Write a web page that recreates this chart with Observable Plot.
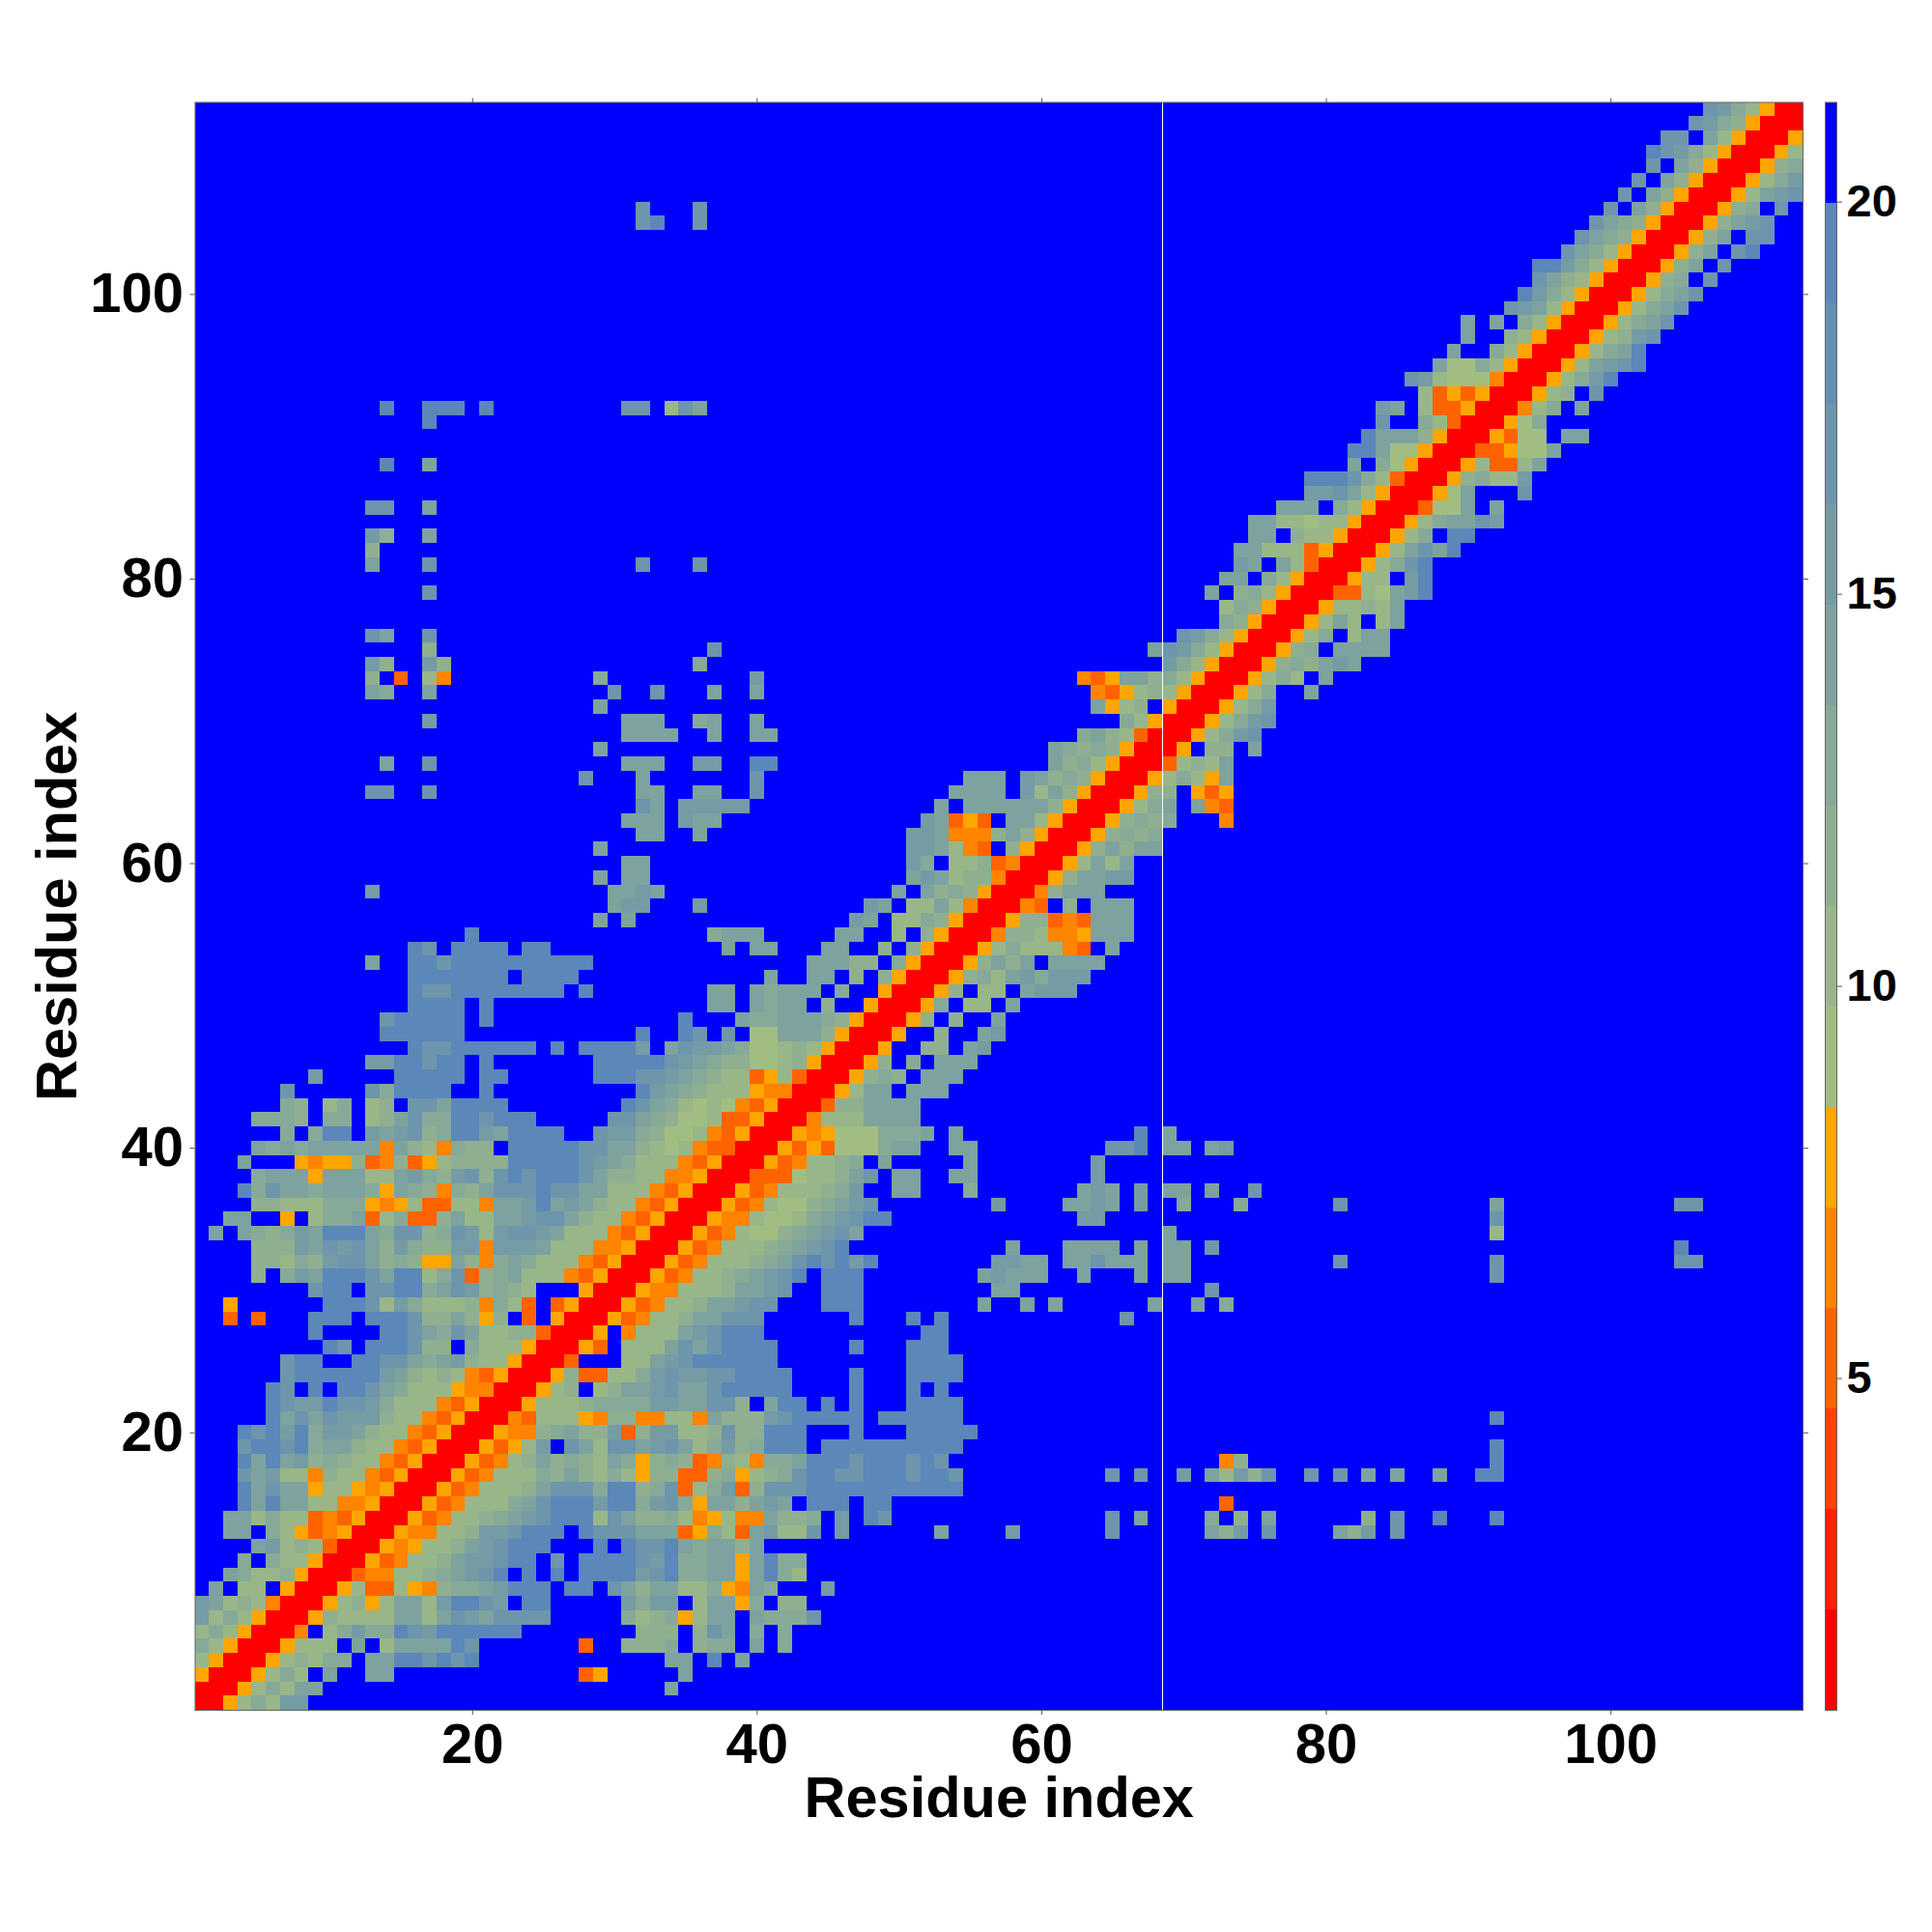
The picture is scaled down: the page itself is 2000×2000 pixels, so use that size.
<!DOCTYPE html>
<html>
<head>
<meta charset="utf-8">
<script src="https://cdn.jsdelivr.net/npm/d3@7"></script>
<script src="https://cdn.jsdelivr.net/npm/@observablehq/plot@0.6"></script>
<style>
html,body{margin:0;padding:0;background:#fff}
#chart{position:relative;width:2000px;height:2000px}
#chart svg{position:absolute;left:0;top:0;background:transparent}
</style>
</head>
<body>
<div id="chart"></div>
<script>
const residueCount = 113;
const axisTicks = [20, 40, 60, 80, 100];
const barTicks = [5, 10, 15, 20];
const axisTitle = "Residue index";
const gapResidue = 68.5;
const barMin = 0.77;
const barMax = 21.27;
const bandColors = ["#ff0000","#ff2100","#ff4200","#ff6300","#ff8400","#ffa500","#a2bd82","#99b689","#90af90","#87a997","#7ea29e","#759ba5","#6d95ac","#648eb2","#5b87b9","#0000ff"];
const levelCodes = {"0":0,"1":1,"2":2,"3":3,"4":4,"5":5,a:6,b:7,c:8,d:9,e:10,f:11,g:12,h:14,i:14,".":15};
// One entry per residue s: "start:codes" runs for the residues r > s (the map is symmetric).
const cellRows = [
"2:05bdbff",
"3:05bdbee 34:e",
"4:05bdb.e 13:ee 28:35 35:e",
"5:05bcbdd 13:eehhghgh 34:ee 37:h 39:e",
"6:05bbb.e.beeeehg 28:3 31:cccd 36:cdd 40:e 42:d",
"7:04.bdfddhgfhiihhh 32:ccc 36:cge 40:d 42:d",
"8:05cbbbbeebegfegggg 31:dbcd5bee 40:edddg",
"9:05bc5beebfhhgf.hh 31:fdff 36:bee5d 42:cc",
"10:05b33b54cddefhhh.hh.geceebbd54ed 45:f",
"11:0344bbcdefgh.h.h.hhhhfghddee5ehdb",
"12:0534bbceffghh.g.hhhhgfhddee5ehdd",
"13:0545bbcefghhh...h.hgghedeece",
"14:0544bbcffghhh.hgggeee35db3efbbg.f 53:e 58:f 65:g 72:ecf.g 81:ecf.g",
"15:0534bbcdefghhhbgeccdb45b44eccd.f.hg 65:g 67:e 72:d 74:c 76:e 83:c 85:g 88:h 92:h",
"16:0534bbbdeghhhfhhdfgd5eecefe.hhh.hh 73:3",
"17:0534bbbcegggdhhcdg3bdf3cggghhhhhhhhhhh",
"18:0534bbbdcecbdb5cc33cd5bcdghhgghhhghhg 65:g 67:g 70:f 72:ebfcg 79:g 81:g 83:e 85:e 88:e 91:hh",
"19:0534bcecdcbed5cdc34cb4ddehhhghhhghg 73:4c 92:h",
"20:0535bf.gebggefgebdfcdhhh.hhhhhhhhhh 92:h",
"21:0544cdeccf3cffbbcgcchhh...h...hhhhh",
"22:043bbb54cc44bb4ecccfghhhhh.hhhhhh 92:h",
"23:05bbbcddddffeeggc.ehh.h.h...hhhh",
"24:05bc.bceefgeeghhhhh....h...h.h",
"25:05c33bbdfgffgghhhh....h...hhhh",
"26:03...bbefghhhhhh 51:hhhh",
"27:053.bbbegeghhhh 47:h 51:hhh",
"28:05.4bbbefghhh 52:hh",
"29:0534bbceeggg 47:h 51:h 53:h 66:g",
"30:0534bbceefgg 45:hhh 56:e 59:e 61:e 68:e 71:e 73:d",
"31:0544bbbceefg 45:hhh 57:ee 72:g",
"32:0534bbcdefgh 45:hhh 56:efeee 63:e 67:e 69:ee 92:g",
"33:0534bbbcdeghghfh 57:ffee 62:eegeee 69:ee 81:g 92:g 105:gg",
"34:0534bbbcdefgh 58:e 62:eeee 67:e 69:ee 72:g 105:h",
"35:0534baacdefge 69:e 92:b",
"36:0544baabdefghh 63:ff 92:g",
"37:0534baacdefg 57:f 62:eefe 67:f 70:d 74:d 81:g 92:e 105:gg",
"38:0534bbbcdf 50:ee 55:d 63:efe 67:f 69:ee 72:e 75:g",
"39:0333abbceg 50:ee 54:ee 64:f",
"40:0534bbcd.e 55:e 64:f",
"41:05353aaadee 54:ee 65:ggh 69:ee 72:ef",
"42:0545aaaddde 54:e 67:h 69:e",
"43:04bbbeeee",
"44:03cceeee",
"45:05bee.eee",
"46:05cdc.eee",
"47:05c.d.eee",
"48:05..cc.ef",
"49:05..c..ef",
"50:05c.c..e",
"51:05d.bb.e",
"52:05c.bb.efff",
"53:05cdbefdfff",
"54:05cece.eeee",
"55:05bdbbb43.e",
"56:04ccb445eee",
"57:05cc343eee",
"58:043.c.eee",
"59:04ceee",
"60:05ceeff",
"61:05bebe",
"62:05cecee",
"63:05cdcd",
"64:05cdcd...4",
"65:05bde.e43",
"66:05cc.535",
"67:05bdb5e",
"68:03bcbe",
"69:05.cc.e",
"70:05bdfg",
"71:05bdfg",
"72:05bdf",
"73:05bd 79:e",
"74:05bdb.e",
"75:05cdcefe",
"76:05cd.eeee",
"77:05bd.bee",
"78:05beb.be",
"79:05bbcbe",
"80:033baefh",
"81:05bb.fh",
"82:05bdgh",
"83:05begeh",
"84:05bd.hh",
"85:05bdeegf",
"86:03aae.e",
"87:05ae 94:g",
"88:05cdbbf",
"89:05b33be",
"90:0335aae",
"91:053aa.ee",
"92:05ad",
"93:04bd.e",
"94:05bc.g",
"95:05bdfh",
"96:05befgh",
"97:05bdeh",
"98:05bcfg",
"99:05bdeg",
"100:05bdeg",
"101:05bdeg",
"102:05cd.g",
"103:05ce.g",
"104:05ce.gh",
"105:05ce.gg",
"106:05cefg",
"107:05cd.g",
"108:05befg",
"109:05bdf",
"110:05cd",
"111:05b",
"112:05",
"113:0"
];

const bandWidth = (barMax - barMin) / bandColors.length;
const bandEdges = bandColors.map((_, i) => barMin + i * bandWidth);
const thresholds = bandEdges.slice(1);

// Expand the rows into the full symmetric table of cells.
const levels = new Map();
levels.set(`${residueCount},${residueCount}`, 0);
cellRows.forEach((row, idx) => {
  const s = idx + 1;
  levels.set(`${s},${s}`, 0);
  row.split(" ").forEach(run => {
    const [start, codes] = run.split(":");
    [...codes].forEach((c, k) => {
      const r = +start + k;
      levels.set(`${s},${r}`, levelCodes[c]);
      levels.set(`${r},${s}`, levelCodes[c]);
    });
  });
});
const cells = [];
for (let y = 1; y <= residueCount; y++) {
  for (let x = 1; x <= residueCount; x++) {
    const level = levels.has(`${x},${y}`) ? levels.get(`${x},${y}`) : 15;
    cells.push({x, y, value: bandEdges[level] + bandWidth / 2});
  }
}

const font = "'Liberation Sans', Arial, sans-serif";
const tickStroke = "#555";
const shared = {
  width: 2000, height: 2000,
  marginTop: 105.5, marginBottom: 230,
  style: {fontFamily: font, background: "transparent"}
};

const main = Plot.plot({
  ...shared,
  marginLeft: 201.5, marginRight: 134,
  x: {domain: [0.5, residueCount + 0.5]},
  y: {domain: [0.5, residueCount + 0.5]},
  color: {type: "threshold", domain: thresholds, range: bandColors},
  marks: [
    Plot.rect(cells, {
      x1: d => d.x - 0.5, x2: d => d.x + 0.5,
      y1: d => d.y - 0.5, y2: d => d.y + 0.5,
      fill: "value", shapeRendering: "crispEdges"
    }),
    Plot.ruleX([gapResidue], {stroke: "white", strokeWidth: 1, shapeRendering: "crispEdges"}),
    Plot.frame({stroke: "#666", strokeWidth: 1}),
    Plot.axisX(axisTicks, {anchor: "bottom", tickSize: 5, tickPadding: 8, fontSize: 58, fontWeight: "bold", stroke: tickStroke, fill: "black", label: null}),
    Plot.axisX(axisTicks, {anchor: "top", tickSize: 5, stroke: tickStroke, tickFormat: () => "", label: null}),
    Plot.axisY(axisTicks, {anchor: "left", tickSize: 5, tickPadding: 7, fontSize: 58, fontWeight: "bold", stroke: tickStroke, fill: "black", label: null}),
    Plot.axisY(axisTicks, {anchor: "right", tickSize: 5, stroke: tickStroke, tickFormat: () => "", label: null}),
    Plot.text([axisTitle], {frameAnchor: "bottom", lineAnchor: "middle", textAnchor: "middle", dy: 91, fontSize: 59.5, fontWeight: "bold", fill: "black"}),
    Plot.text([axisTitle], {frameAnchor: "left", lineAnchor: "middle", textAnchor: "middle", dx: -142.5, rotate: -90, fontSize: 59.5, fontWeight: "bold", fill: "black"})
  ]
});

const bar = Plot.plot({
  ...shared,
  marginLeft: 1889, marginRight: 99,
  x: {axis: null, domain: [0, 1]},
  y: {domain: [barMin, barMax]},
  marks: [
    Plot.rect(bandColors, {
      x1: 0, x2: 1,
      y1: (_, i) => bandEdges[i], y2: (_, i) => bandEdges[i] + bandWidth,
      fill: d => d, shapeRendering: "crispEdges"
    }),
    Plot.frame({stroke: "#666", strokeWidth: 1}),
    Plot.axisY(barTicks, {anchor: "right", tickSize: 5, tickPadding: 5, fontSize: 47, fontWeight: "bold", stroke: tickStroke, fill: "black", label: null, tickFormat: "d"})
  ]
});

document.getElementById("chart").append(main, bar);
</script>
</body>
</html>
